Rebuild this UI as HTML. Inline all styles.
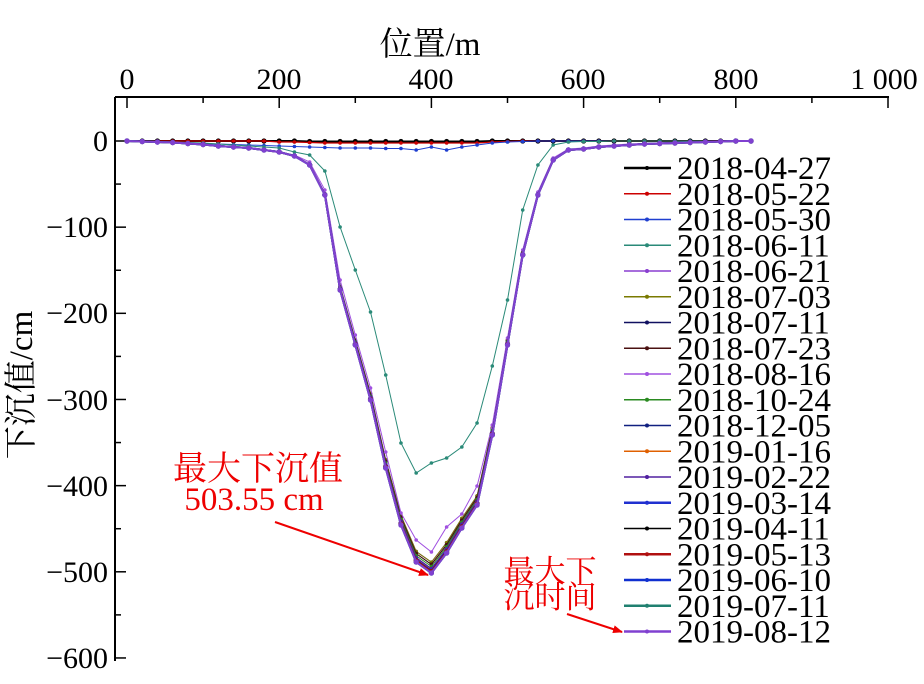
<!DOCTYPE html>
<html><head><meta charset="utf-8"><style>
body{margin:0;background:#fff;}
svg text{font-family:"Liberation Serif","Noto Serif CJK SC",serif;}
</style></head><body>
<svg id="s" width="924" height="679" viewBox="0 0 924 679" xmlns="http://www.w3.org/2000/svg">
<defs><marker id="ah" markerWidth="10" markerHeight="8" refX="9" refY="4" orient="auto" markerUnits="userSpaceOnUse"><path d="M0,0 L10,4 L0,8 z" fill="#e00"/></marker></defs>
<g stroke="#000" stroke-width="2" fill="none">
<line x1="115" y1="97" x2="889" y2="97"/>
<line x1="115" y1="97" x2="115" y2="661"/>
</g>
<g id="ticks" stroke="#000" stroke-width="1.5"></g>
<g font-size="30" fill="#000">
<text x="127" y="89" text-anchor="middle">0</text>
<text x="279" y="89" text-anchor="middle">200</text>
<text x="431" y="89" text-anchor="middle">400</text>
<text x="583" y="89" text-anchor="middle">600</text>
<text x="736" y="89" text-anchor="middle">800</text>
<text x="884" y="89" text-anchor="middle">1 000</text>
<text x="108" y="151" text-anchor="end">0</text>
<text x="108" y="237" text-anchor="end">−100</text>
<text x="108" y="323" text-anchor="end">−200</text>
<text x="108" y="410" text-anchor="end">−300</text>
<text x="108" y="496" text-anchor="end">−400</text>
<text x="108" y="582" text-anchor="end">−500</text>
<text x="108" y="668" text-anchor="end">−600</text>
<text x="430" y="55" font-size="33" text-anchor="middle">位置/m</text>
<text transform="translate(32,385) rotate(-90)" font-size="33" text-anchor="middle">下沉值/cm</text>
</g>
<g id="series" fill="none"></g>
<g id="legend" font-size="33"></g>
<g fill="#e00">
<text x="258" y="480" font-size="34" text-anchor="middle">最大下沉值</text>
<text x="254" y="510" font-size="33" text-anchor="middle">503.55 cm</text>
<text x="550" y="582" font-size="31" text-anchor="middle">最大下</text>
<text x="550" y="608" font-size="31" text-anchor="middle">沉时间</text>
</g>
<line x1="275" y1="522" x2="428" y2="575" stroke="#e00" stroke-width="2" marker-end="url(#ah)"/>
<line x1="567" y1="614" x2="622" y2="632" stroke="#e00" stroke-width="2" marker-end="url(#ah)"/>
</svg>
<script>
var NS="http://www.w3.org/2000/svg";
function el(t,a,p){var e=document.createElementNS(NS,t);for(var k in a)e.setAttribute(k,a[k]);p.appendChild(e);return e;}
var tk=document.getElementById('ticks');
for(var v=0;v<=1000;v+=100){var x=127+v*0.761;el('line',{x1:x,y1:97,x2:x,y2:v%200?103:108},tk);}
for(var c=0;c>=-600;c-=50){var y=141-c*0.8616;el('line',{x1:115,y1:y,x2:c%100?121:126,y2:y},tk);}
var main=[141,141.5,142,142.5,143.5,144.5,146,147,148,150,152,156,165,195,290,345,400,468,525,562,573,553,528,505,435,345,255,195,160,150,149,147,146,145,144,143.5,143,142.5,142,141.5,141,141];
var teal=[141,141,141.5,142,142.5,143,144,145,146,147,148,152,155,171,227,270,312,375,443,473,463,458,447,423,366,300,210,165,145,142,141.5,141.5,141,141,141,141,141,141,141,141,141,141];
var lp=[141,141.5,142,142.5,143.5,144.5,146,147,148,150,152,155,162,190,280,335,388,452,513,540,552,527,514,486,425,338,250,192,158,149,148,146,145,144,143.5,143,142.5,142,141.5,141,141,141];
var blue=[141,141.5,142,142.5,143,143.5,144,144.5,145,145.5,146,146.5,147,147.5,148,148,148,148.5,148.5,150,147,150,147,145,143,142,141.5,141,141,141,141,141,141,141,141,141,141,141,141,141,141,141];
var red=[141,141,141,141,141,141,141,141,141,141,142,142,142.5,143,143,143,143,143,143,143,143,143,143,143,142,141.5,141,141,141,141,141,141,141,141,141,141,141,141,141,141,141,141];
var blk=[141,141,141,141,141,141,141,141,141,141,141,141,141.5,141.5,141.5,141.5,141.5,141.5,141.5,141.5,141.5,141.5,141.5,141.5,141,141,141,141,141,141,141,141,141,141,141,141,141,141,141,141,141,141];
function scl(f){return main.map(function(y){return 141+(y-141)*f;});}
var S=[
["2018-04-27","#000",blk,2],["2018-05-22","#c00",red,1.2],["2018-05-30","#1f3fd0",blue,1],["2018-06-11","#2a8a78",teal,1],
["2018-06-21","#8a3fd0",scl(0.975),1],["2018-07-03","#7a7a00",scl(0.975),1],["2018-07-11","#101060",scl(0.98),1],["2018-07-23","#4a1010",scl(0.98),1],
["2018-08-16","#a050e0",lp,1],["2018-10-24","#2a8a20",scl(0.985),1],["2018-12-05","#102080",scl(0.99),1],["2019-01-16","#e06000",scl(0.99),1],
["2019-02-22","#5020a0",scl(0.99),1.2],["2019-03-14","#2030d0",scl(0.995),2],["2019-04-11","#000",scl(0.995),1],["2019-05-13","#b01010",scl(0.997),2],
["2019-06-10","#1030d0",scl(1),2],["2019-07-11","#208070",scl(1),2],["2019-08-12","#8040d0",scl(1),2]];
var sg=document.getElementById('series'),lg=document.getElementById('legend');
S.forEach(function(s,i){
 var pts=s[2].map(function(y,j){return (127+j*20*0.761).toFixed(1)+","+y.toFixed(1);});
 el('polyline',{points:pts.join(" "),stroke:s[1],'stroke-width':s[3]},sg);
 s[2].forEach(function(y,j){el('circle',{cx:127+j*20*0.761,cy:y,r:s[3]>1.5?2.6:1.8,fill:s[1]},sg);});
 var ly=168+i*25.75;
 el('line',{x1:624,y1:ly,x2:671,y2:ly,stroke:s[1],'stroke-width':s[3]>1.5?2.5:1.5},lg);
 el('circle',{cx:647,cy:ly,r:2,fill:s[1]},lg);
 var t=el('text',{x:677,y:ly+11,fill:'#000'},lg);t.textContent=s[0];
});
</script>
</body></html>
